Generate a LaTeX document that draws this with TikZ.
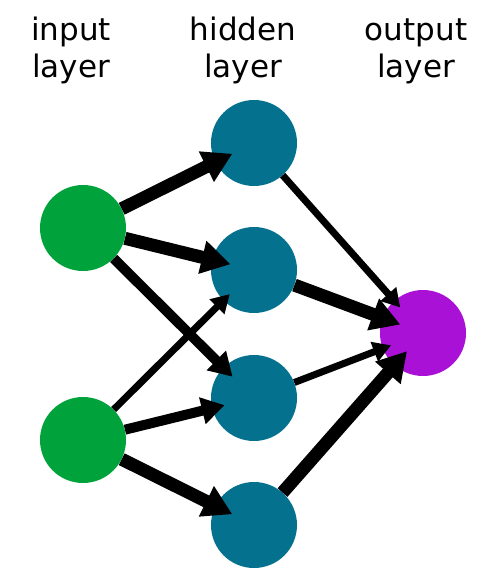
\documentclass[tikz,border=0pt]{standalone}
\usepackage{fontspec}
\setmainfont{DejaVu Sans}
\usetikzlibrary{arrows.meta, positioning}
\definecolor{inputGreen}{HTML}{00A33B}
\definecolor{hiddenBlue}{HTML}{04718F}
\definecolor{outputPurple}{HTML}{A912D6}

\begin{document}
\begin{tikzpicture}[x=1pt, y=-1pt,
    every node/.style={font=\fontsize{31}{37}\selectfont},
    neuron/.style={circle, minimum size=86pt, inner sep=0pt},
    layerLabel/.style={align=center, anchor=north, inner sep=0pt},
    heavyLink/.style={line width=13pt, -{Triangle[length=29pt, width=32pt]}, shorten >=-19pt},
    midLink/.style={line width=10pt, -{Triangle[length=23pt, width=26pt]}, shorten >=-13pt},
    lightLink/.style={line width=7pt, -{Triangle[length=18pt, width=20pt]}, shorten >=-9pt}]
    \useasboundingbox (0,0) rectangle (487,577);
    % layer titles
    \node[layerLabel] (inLabel) at (71,14) {\strut input\\layer};
    \node[layerLabel] (hidLabel) at (243,14) {\strut hidden\\layer};
    \node[layerLabel] (outLabel) at (416,14) {\strut output\\layer};
    % neurons
    \node[neuron, fill=inputGreen] (in1) at (83,228) {};
    \node[neuron, fill=inputGreen] (in2) at (83,440) {};
    \node[neuron, fill=hiddenBlue] (hid1) at (254,143) {};
    \node[neuron, fill=hiddenBlue] (hid2) at (254,270) {};
    \node[neuron, fill=hiddenBlue] (hid3) at (254,398) {};
    \node[neuron, fill=hiddenBlue] (hid4) at (254,525) {};
    \node[neuron, fill=outputPurple] (out) at (423,333) {};
    % weights
    \draw[heavyLink] (in1) -- (hid1);
    \draw[heavyLink] (in1) -- (hid2);
    \draw[midLink] (in1) -- (hid3);
    \draw[lightLink] (in2) -- (hid2);
    \draw[midLink] (in2) -- (hid3);
    \draw[heavyLink] (in2) -- (hid4);
    \draw[lightLink] (hid1) -- (out);
    \draw[heavyLink] (hid2) -- (out);
    \draw[lightLink] (hid3) -- (out);
    \draw[heavyLink] (hid4) -- (out);
\end{tikzpicture}
\end{document}
